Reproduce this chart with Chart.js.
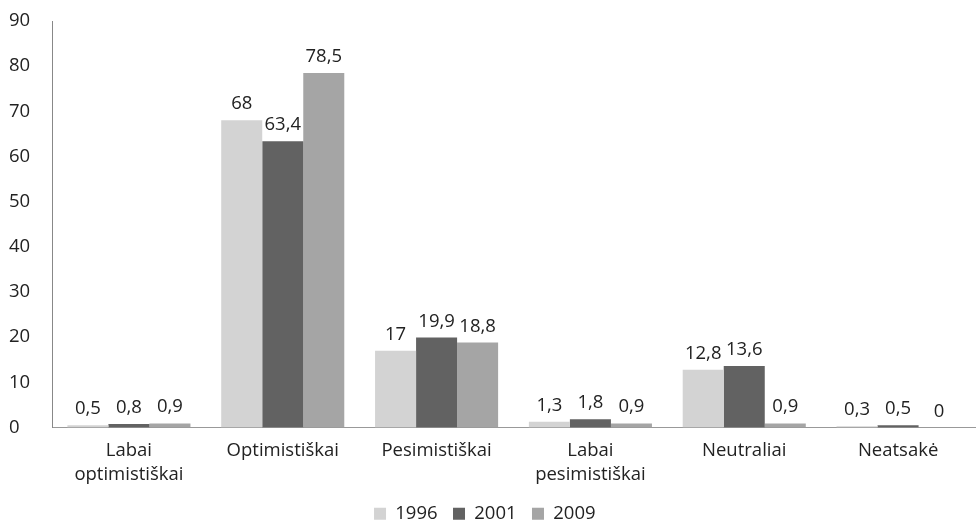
<!DOCTYPE html>
<html>
<head>
<meta charset="utf-8">
<script src="https://cdn.jsdelivr.net/npm/chart.js@4"></script>
<style>
  html, body { margin: 0; padding: 0; background: #fff; }
  #wrap { width: 976px; height: 524px; }
</style>
</head>
<body>
<div id="wrap"><canvas id="mycanvas" width="976" height="524"></canvas></div>
<script>
var categories = [
    ["Labai", "optimistiškai"],
    "Optimistiškai",
    "Pesimistiškai",
    ["Labai", "pesimistiškai"],
    "Neutraliai",
    "Neatsakė"
];
var values1996 = [0.5, 68, 17, 1.3, 12.8, 0.3];
var values2001 = [0.8, 63.4, 19.9, 1.8, 13.6, 0.5];
var values2009 = [0.9, 78.5, 18.8, 0.9, 0.9, 0];
var yTicks = [0, 10, 20, 30, 40, 50, 60, 70, 80, 90];

var fontFamily = "'Open Sans', 'Noto Sans', sans-serif";
var fontSize = 18.5;

// draws the value above each bar, with a decimal comma
var valueLabels = {
    id: 'valueLabels',
    afterDatasetsDraw: function(chart) {
        var ctx = chart.ctx;
        ctx.save();
        ctx.font = fontSize + "px " + fontFamily;
        ctx.fillStyle = "#222";
        ctx.textAlign = "center";
        ctx.textBaseline = "bottom";
        chart.data.datasets.forEach(function(ds, i) {
            var meta = chart.getDatasetMeta(i);
            meta.data.forEach(function(bar, j) {
                var txt = String(ds.data[j]).replace('.', ',');
                ctx.fillText(txt, bar.x, bar.y - 7);
            });
        });
        ctx.restore();
    }
};

var ctx = document.getElementById("mycanvas");
var chart = new Chart(ctx, {
    type: 'bar',
    data: {
        labels: categories,
        datasets: [
            { label: '1996', backgroundColor: '#d3d3d3', data: values1996 },
            { label: '2001', backgroundColor: '#626262', data: values2001 },
            { label: '2009', backgroundColor: '#a5a5a5', data: values2009 }
        ]
    },
    options: {
        responsive: false,
        animation: false,
        layout: { padding: { top: 21, right: 1, left: 9, bottom: -9 } },
        datasets: { bar: { categoryPercentage: 0.8, barPercentage: 1.0 } },
        scales: {
            x: {
                grid: { display: false, drawTicks: false },
                border: { display: true, color: '#999', width: 1 },
                afterFit: function(axis) { axis.height = 76; },
                ticks: {
                    color: '#222',
                    font: { family: fontFamily, size: fontSize, lineHeight: 1.3 },
                    padding: 11,
                    maxRotation: 0
                }
            },
            y: {
                min: 0,
                max: 90,
                afterBuildTicks: function(axis) {
                    axis.ticks = yTicks.map(function(v) { return { value: v }; });
                },
                afterFit: function(axis) {
                    axis.width = 43;
                    axis.paddingTop = 0;
                    axis.paddingBottom = 0;
                },
                grid: { display: false, drawTicks: false },
                border: { display: true, color: '#888', width: 1 },
                ticks: {
                    color: '#222',
                    font: { family: fontFamily, size: fontSize },
                    padding: 17,
                    crossAlign: 'far'
                }
            }
        },
        plugins: {
            legend: {
                display: true,
                position: 'bottom',
                labels: {
                    boxWidth: 12,
                    boxHeight: 12,
                    color: '#222',
                    padding: 1,
                    font: { family: fontFamily, size: fontSize },
                    generateLabels: function(chart) {
                        var items = Chart.defaults.plugins.legend.labels.generateLabels(chart);
                        items.forEach(function(it) { it.text = it.text + '   '; });
                        return items;
                    }
                }
            },
            tooltip: { enabled: false }
        }
    },
    plugins: [valueLabels]
});
</script>
</body>
</html>
